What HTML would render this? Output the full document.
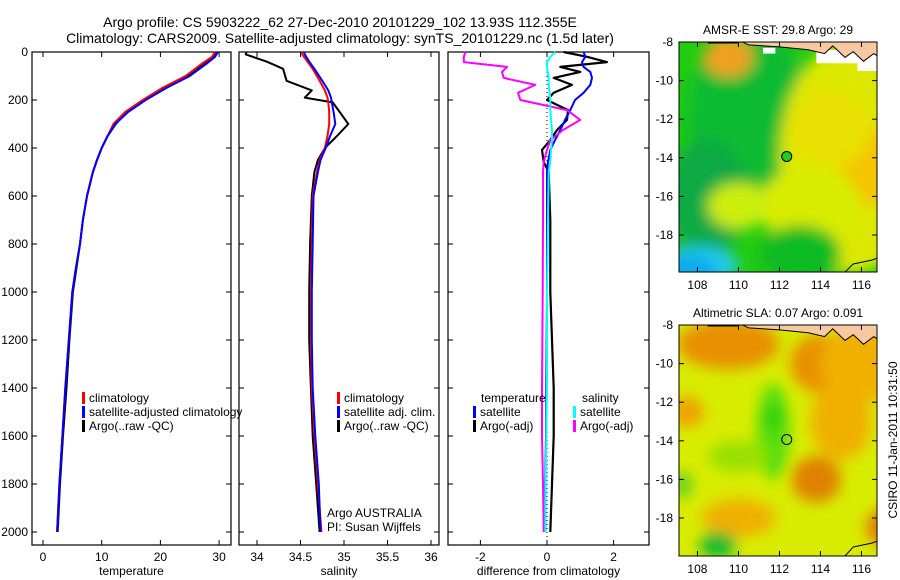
<!DOCTYPE html>
<html><head><meta charset="utf-8"><style>
html,body{margin:0;padding:0;background:#fff}
svg{display:block;font-family:"Liberation Sans",sans-serif}
</style></head><body>
<svg id="fig" width="900" height="580" viewBox="0 0 900 580" xmlns="http://www.w3.org/2000/svg">
<defs>
<filter id="blur6" x="-50%" y="-50%" width="200%" height="200%"><feGaussianBlur stdDeviation="7"/></filter>
<clipPath id="clip1"><rect x="679" y="42" width="198" height="230"/></clipPath>
<clipPath id="clip2"><rect x="679" y="325" width="198" height="231"/></clipPath>
</defs>
<text x="340" y="27" font-size="14" text-anchor="middle">Argo profile: CS 5903222_62 27-Dec-2010 20101229_102 13.93S 112.355E</text>
<text x="340" y="43" font-size="14" text-anchor="middle">Climatology: CARS2009. Satellite-adjusted climatology: synTS_20101229.nc (1.5d later)</text>
<g id="g1"></g>
<g id="g2"></g>
<g id="g3"></g>
<g id="m1"></g>
<g id="m2"></g>
<text transform="translate(897,440) rotate(-90)" font-size="12" text-anchor="middle">CSIRO 11-Jan-2011 10:31:50</text>
</svg>
<script>
const depths = [0,20,50,100,150,200,250,300,350,400,450,500,600,700,800,900,1000,1200,1400,1600,1800,2000];
const tempClim = [29.3,28.8,27.0,24.3,20.3,17.0,14.0,12.0,11.0,10.0,9.2,8.5,7.5,6.8,6.3,5.6,5.0,4.4,3.8,3.3,2.8,2.4];
const tempSat  = [29.8,29.3,27.8,25.0,21.0,17.5,14.5,12.3,11.0,10.0,9.2,8.5,7.5,6.8,6.3,5.6,5.0,4.4,3.8,3.3,2.8,2.4];
const tempArgo = [29.5,29.2,27.5,24.5,20.8,17.2,14.3,12.4,11.0,10.0,9.2,8.5,7.5,6.8,6.3,5.7,5.1,4.5,4.0,3.4,2.9,2.5];
const salDepths = [0,10,40,70,120,160,190,210,250,300,350,400,450,500,600,800,1000,1200,1400,1600,1800,2000];
const salClim = [34.52,34.52,34.58,34.64,34.72,34.78,34.81,34.82,34.83,34.83,34.81,34.78,34.72,34.69,34.64,34.63,34.62,34.62,34.63,34.66,34.70,34.74];
const salSat  = [34.54,34.55,34.60,34.66,34.75,34.82,34.85,34.86,34.88,34.90,34.84,34.79,34.73,34.70,34.65,34.64,34.63,34.63,34.64,34.67,34.71,34.73];
const salArgo = [33.88,33.87,34.11,34.30,34.34,34.63,34.55,34.87,34.95,35.05,34.92,34.78,34.70,34.66,34.63,34.61,34.60,34.60,34.62,34.64,34.68,34.72];
const diffDepths = [0,20,42,62,83,108,137,170,200,242,283,325,367,408,458,500,700,1000,1400,1600,1800,2000];
const dTempSat  = [1.1,1.15,1.05,1.1,1.3,1.35,1.3,1.1,0.84,0.7,0.54,0.4,0.24,0.1,0.03,0.0,0.0,0.0,-0.02,-0.03,-0.05,-0.05];
const dTempArgo = [0.5,1.2,1.8,0.4,1.0,0.2,0.75,0.2,0.0,0.63,0.6,0.3,0.1,-0.15,-0.1,0.05,0.1,0.1,0.2,0.2,0.15,0.1];
const dSalSat   = [0.25,0.1,0.0,0.0,0.02,0.05,0.05,0.08,0.1,0.1,0.12,0.15,0.15,0.12,0.1,0.05,0.03,0.0,0.0,-0.02,-0.04,-0.05];
const dSalArgo  = [-2.45,-2.5,-2.5,-1.2,-1.35,-1.3,-0.35,-0.87,-0.8,0.6,1.0,0.48,0.1,0.0,-0.1,-0.12,-0.12,-0.13,-0.15,-0.15,-0.12,-0.1];
const depthTicks = [0,200,400,600,800,1000,1200,1400,1600,1800,2000];
const tempTicks = [0,10,20,30];
const salTicks = [34,34.5,35,35.5,36];
const salTickLabels = ["34","34.5","35","35.5","36"];
const diffTicks = [-2,0,2];
const latTicks = [-8,-10,-12,-14,-16,-18];
const lonTicks = [108,110,112,114,116];

const NS="http://www.w3.org/2000/svg";
function el(parent,tag,attrs,text){const e=document.createElementNS(NS,tag);for(const k in attrs)e.setAttribute(k,attrs[k]);if(text!==undefined)e.textContent=text;parent.appendChild(e);return e;}
const PT=52, PB=545;
const yDepth = d => 52 + d*0.24;

function panel(g, x0, x1, xScale, xticks, xlabels, xtitle, leftLabels){
  const r=el(g,'rect',{x:x0,y:PT,width:x1-x0,height:PB-PT,fill:'none',stroke:'#000','stroke-width':1.2});
  
  
  depthTicks.forEach(d=>{
    const y=yDepth(d);
    el(g,'line',{x1:x0,x2:x0+5,y1:y,y2:y,stroke:'#000'});
    el(g,'line',{x1:x1-5,x2:x1,y1:y,y2:y,stroke:'#000'});
    if(leftLabels){const t=el(g,'text',{x:x0-4,y:y+4,'font-size':12,'text-anchor':'end'},String(d));
      
      }
  });
  xticks.forEach((v,i)=>{
    const x=xScale(v);
    el(g,'line',{x1:x,x2:x,y1:PB,y2:PB-5,stroke:'#000'});
    el(g,'line',{x1:x,x2:x,y1:PT,y2:PT+5,stroke:'#000'});
    const t=el(g,'text',{x:x,y:PB+16,'font-size':12,'text-anchor':'middle'},xlabels[i]);
    
    
  });
  const tt=el(g,'text',{x:(x0+x1)/2,y:PB+30,'font-size':12,'text-anchor':'middle'},xtitle);
  
  
}
function line(g, xs, ds, xScale, color, name, w){
  const pts=xs.map((v,i)=>xScale(v).toFixed(1)+','+yDepth(ds[i]).toFixed(1)).join(' ');
  const p=el(g,'polyline',{points:pts,fill:'none',stroke:color,'stroke-width':w||2,'stroke-linejoin':'round'});
  
  
}
function legend(g,x,y,items){
  items.forEach((it,i)=>{
    const yy=y+i*14;
    el(g,'rect',{x:x,y:yy-10,width:3,height:12,fill:it[1]});
    const t=el(g,'text',{x:x+7,y:yy,'font-size':12},it[0]);
    
    
  });
}
const g1=document.getElementById('g1');
const xT=v=>43+v*5.87;
panel(g1,32,231,xT,tempTicks,tempTicks.map(String),'temperature',true);
line(g1,tempArgo,depths,xT,'#000','temp-argo-line');
line(g1,tempClim,depths,xT,'#f00','temp-climatology-line');
line(g1,tempSat,depths,xT,'#00f','temp-satellite-line');
legend(g1,82,402,[['climatology','#f00'],['satellite-adjusted climatology','#00f'],['Argo(..raw -QC)','#000']]);
const g2=document.getElementById('g2');
const xS=v=>257+(v-34)*87;
panel(g2,239,439,xS,salTicks,salTickLabels,'salinity',false);
line(g2,salArgo,salDepths,xS,'#000','salinity-argo-line');
line(g2,salClim,salDepths,xS,'#f00','salinity-climatology-line');
line(g2,salSat,salDepths,xS,'#00f','salinity-satellite-line');
legend(g2,337,402,[['climatology','#f00'],['satellite adj. clim.','#00f'],['Argo(..raw -QC)','#000']]);
const a1=el(g2,'text',{x:327,y:517,'font-size':12},'Argo AUSTRALIA');


const a2=el(g2,'text',{x:327,y:531,'font-size':12},'PI: Susan Wijffels');


const g3=document.getElementById('g3');
const xD=v=>547+v*33.3;
panel(g3,448,649,xD,diffTicks,diffTicks.map(String),'difference from climatology',false);
el(g3,'line',{x1:xD(0),x2:xD(0),y1:PT,y2:PB,stroke:'#000','stroke-dasharray':'1,3'});
line(g3,dTempArgo,diffDepths,xD,'#000','diff-temp-argo-line',2.2);
line(g3,dTempSat,diffDepths,xD,'#00f','diff-temp-satellite-line');
line(g3,dSalArgo,diffDepths,xD,'#f0f','diff-sal-argo-line');
line(g3,dSalSat,diffDepths,xD,'#0ff','diff-sal-satellite-line');
const lt1=el(g3,'text',{x:481,y:402,'font-size':12},'temperature');


const lt2=el(g3,'text',{x:582,y:402,'font-size':12},'salinity');


legend(g3,473,416,[['satellite','#00f'],['Argo(-adj)','#000']]);
legend(g3,573,416,[['satellite','#0ff'],['Argo(-adj)','#f0f']]);

const lonX=lon=>679+(lon-107.1)*20.5;
function mapFrame(g,top,h,title,clip,base,blobs,land){
  const xl=v=>lonX(v), ly=v=>top+(-8-v)*19.3;
  const c=el(g,'g',{'clip-path':'url(#'+clip+')'});
  el(c,'rect',{x:679,y:top,width:198,height:h,fill:base});
  const bg=el(c,'g',{filter:'url(#blur6)'});
  blobs.forEach(b=>{el(bg,'ellipse',{cx:xl(b[0]),cy:ly(b[1]),rx:b[2]*20.5,ry:b[3]*19.3,fill:b[4]});});
  land(c,xl,ly);
  el(c,'path',{d:`M${xl(115.2)},${top+h} L${xl(115.6)},${ly(-19.5)} L${xl(116.5)},${ly(-19.3)} L${xl(117.6)},${ly(-18.9)}`,fill:'none',stroke:'#000','stroke-width':1});
  const mk=el(g,'circle',{cx:xl(112.355),cy:ly(-13.93),r:5,fill:clip==='clip1'?'#22cc22':'none',stroke:'#000','stroke-width':1});
  
  
  el(g,'rect',{x:679,y:top,width:198,height:h,fill:'none',stroke:'#000','stroke-width':1});
  latTicks.forEach(v=>{const y=ly(v);
    el(g,'line',{x1:679,x2:684,y1:y,y2:y,stroke:'#000'});el(g,'line',{x1:872,x2:877,y1:y,y2:y,stroke:'#000'});
    const t=el(g,'text',{x:673,y:y+4,'font-size':12,'text-anchor':'end'},String(v));
    
    });
  lonTicks.forEach(v=>{const x=xl(v);
    el(g,'line',{x1:x,x2:x,y1:top,y2:top+5,stroke:'#000'});el(g,'line',{x1:x,x2:x,y1:top+h,y2:top+h-5,stroke:'#000'});
    const t=el(g,'text',{x:x,y:top+h+17,'font-size':12,'text-anchor':'middle'},String(v));
    
    });
  const tt=el(g,'text',{x:778,y:top-8,'font-size':12,'text-anchor':'middle'},title);
  
  
}
function land(c,xl,ly,white){
  if(white){
    el(c,'polygon',{points:`${xl(111.2)},${ly(-8.3)} ${xl(111.8)},${ly(-8.3)} ${xl(111.8)},${ly(-8.6)} ${xl(111.2)},${ly(-8.6)}`,fill:'#fff'});
    el(c,'polygon',{points:`${xl(113.8)},${ly(-8.4)} ${xl(117.7)},${ly(-8.4)} ${xl(117.7)},${ly(-9.5)} ${xl(115.8)},${ly(-9.5)} ${xl(115.8)},${ly(-9.1)} ${xl(113.8)},${ly(-9.1)}`,fill:'#fff'});
  }
  el(c,'path',{d:`M${xl(110.0)},${ly(-7.9)} L${xl(110.5)},${ly(-8.15)} L${xl(112)},${ly(-8.25)} L${xl(113.4)},${ly(-8.4)} L${xl(114.2)},${ly(-8.6)} L${xl(114.6)},${ly(-8.2)} L${xl(115.2)},${ly(-8.8)} L${xl(115.6)},${ly(-8.5)} L${xl(116.1)},${ly(-9.0)} L${xl(116.6)},${ly(-8.6)} L${xl(117.2)},${ly(-9.0)} L${xl(117.7)},${ly(-8.8)} L${xl(117.7)},${ly(-7.8)} Z`,fill:'#f8c8a0',stroke:'#000','stroke-width':1});
  el(c,'path',{d:`M${xl(108.5)},${ly(-8.05)} L${xl(110.0)},${ly(-8.05)}`,stroke:'#000','stroke-width':1,fill:'none'});
}
mapFrame(document.getElementById('m1'),42,230,'AMSR-E SST: 29.8 Argo: 29','clip1','#22cc11',[
  [110.5,-12,3,5,'#11bb33'],[108.5,-16,2,3,'#11aa44'],[115.5,-14,3.5,6,'#dde800'],[116.5,-14.5,1.5,2,'#f5c400'],
  [114.5,-12.5,2,2,'#e8e000'],[113.5,-16.5,2.5,2,'#d8ec00'],[110,-16.5,1.5,1.2,'#ccee11'],[109.5,-8.8,1.2,1,'#f0a020'],
  [108,-19.6,2,1,'#22ccee'],[107.5,-19.8,1.5,0.8,'#11aaee'],[113,-19,2,1.5,'#11bb22']],(c,xl,ly)=>land(c,xl,ly,true));
mapFrame(document.getElementById('m2'),325,231,'Altimetric SLA: 0.07 Argo: 0.091','clip2','#d8ec00',[
  [109.5,-9,2.5,1.3,'#e89000'],[114,-10,1.5,1.5,'#e89000'],[116,-10,2,2,'#f0b000'],[107.5,-12.5,0.8,0.8,'#f0a000'],
  [113.8,-16,1.2,1.2,'#e08000'],[117.2,-18.5,1,1,'#e08000'],[110,-18,1.8,1,'#f0b000'],[115,-13,1.5,2,'#f0b000'],
  [111.7,-13.5,0.8,2.5,'#55dd11'],[111.7,-12.8,0.4,0.6,'#22cc11'],[109,-19.4,0.9,0.7,'#11bb33'],[110,-14.8,1.5,0.8,'#99e000'],[107.3,-16.3,0.4,0.7,'#55cc22']],(c,xl,ly)=>land(c,xl,ly,false));
</script>
</body></html>
